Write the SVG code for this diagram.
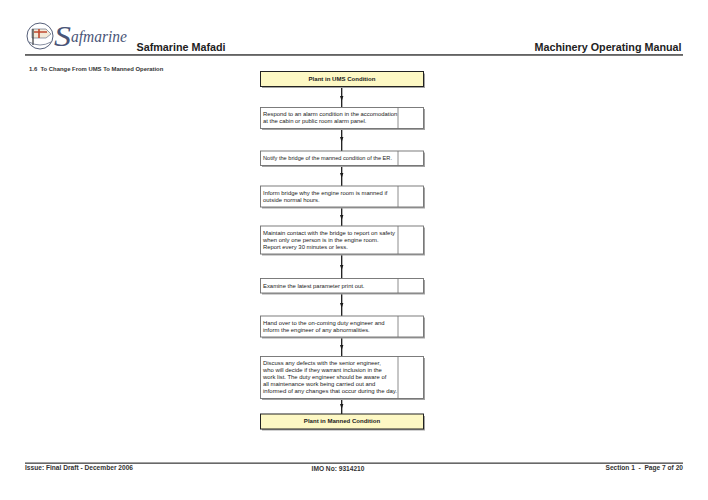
<svg xmlns="http://www.w3.org/2000/svg" width="708" height="500" viewBox="0 0 708 500">
<style>
text{font-family:"Liberation Sans",Arial,sans-serif;fill:#222;white-space:pre}
.b{font-size:5.9px}
.t{font-size:6.05px;font-weight:bold;text-anchor:middle}
.box{fill:#fff;stroke:#6f6f6f;stroke-width:.9}
.y{fill:#fdf8c4;stroke:#222;stroke-width:1}
.sh{fill:#a3a3a3}
.div{stroke:#6f6f6f;stroke-width:.8}
.c{stroke:#1a1a1a;stroke-width:1.3;fill:none}
.h{font-size:10.75px;font-weight:bold}
.f{font-size:6.62px;font-weight:bold;fill:#333}
.logo{font-family:"Liberation Serif",serif;font-style:italic;fill:#4a5578}
</style>
<rect width="708" height="500" fill="#fff"/>
<g id="header">
<circle cx="40" cy="36" r="13" fill="#fff" stroke="#56607a" stroke-width="1"/>
<path d="M32,29 L46,29 L51,34 L46,38 L32,38 Z" fill="#f3ead8" stroke="#56607a" stroke-width=".6"/>
<path d="M34,32 H47 M39,29 V38" stroke="#c0492f" stroke-width="1.6" fill="none"/>
<path d="M33,29 V45" stroke="#333" stroke-width="1.2"/>
<path d="M29,42 Q40,48 51,42" stroke="#56607a" stroke-width=".7" fill="none"/>
<text class="logo" x="54" y="46" style="font-size:29px" textLength="17" lengthAdjust="spacingAndGlyphs">S</text>
<text class="logo" x="71" y="42" style="font-size:16px" textLength="56" lengthAdjust="spacingAndGlyphs">afmarine</text>
<text class="h" x="136.500" y="50.500">Safmarine Mafadi</text>
<text class="h" x="681.500" y="50.500" text-anchor="end">Machinery Operating Manual</text>
<rect x="25" y="54.300" width="658" height="1.300" fill="#222"/>
<text x="29" y="71" style="font-size:5.9px;font-weight:bold;fill:#333">1.6  To Change From UMS To Manned Operation</text>
</g>
<g id="connectors">
<path class="c" d="M341.700 87V107"/>
<path class="c" d="M341.700 129V151"/>
<path class="c" d="M341.700 166V186"/>
<path class="c" d="M341.700 208V226"/>
<path class="c" d="M341.700 255V279"/>
<path class="c" d="M341.700 294V316"/>
<path class="c" d="M341.700 338V356"/>
<path class="c" d="M341.700 399V414"/>
<g fill="#1a1a1a">
<path d="M340 96h3.400l-1.700 5z"/><path d="M340 137h3.400l-1.700 5z"/><path d="M340 173h3.400l-1.700 5z"/><path d="M340 215h3.400l-1.700 5z"/><path d="M340 265h3.400l-1.700 5z"/><path d="M340 303h3.400l-1.700 5z"/><path d="M340 345h3.400l-1.700 5z"/><path d="M340 404h3.400l-1.700 5z"/>
</g>
</g>
<g id="n1"><rect class="sh" x="262" y="73.500" width="163" height="14.500"/><rect class="y" x="260.500" y="71.500" width="163" height="15"/><text class="t" x="342" y="80.500">Plant in UMS Condition</text></g>
<g id="n2"><rect class="sh" x="262" y="109" width="163" height="21"/><rect class="box" x="260.500" y="107.500" width="163" height="21"/><path class="div" d="M398 107.500V128.500"/><text class="b" x="263" y="115.800">Respond to an alarm condition in the accomodation</text><text class="b" x="263" y="122.800">at the cabin or public room alarm panel.</text></g>
<g id="n3"><rect class="sh" x="262" y="152.500" width="163" height="14.500"/><rect class="box" x="260.500" y="151" width="163" height="14.500"/><path class="div" d="M398 151V165.500"/><text class="b" x="263" y="159.800" textLength="129" lengthAdjust="spacingAndGlyphs">Notify the bridge of the manned condition of the ER.</text></g>
<g id="n4"><rect class="sh" x="262" y="187.500" width="163" height="21"/><rect class="box" x="260.500" y="186" width="163" height="21"/><path class="div" d="M398 186V207"/><text class="b" x="263" y="194.800">Inform bridge why the engine room is manned if</text><text class="b" x="263" y="201.800">outside normal hours.</text></g>
<g id="n5"><rect class="sh" x="262" y="227.500" width="163" height="28"/><rect class="box" x="260.500" y="226" width="163" height="28"/><path class="div" d="M398 226V254"/><text class="b" x="263" y="234.800">Maintain contact with the bridge to report on safety</text><text class="b" x="263" y="241.800">when only one person is in the engine room.</text><text class="b" x="263" y="248.800">Report every 30 minutes or less.</text></g>
<g id="n6"><rect class="sh" x="262" y="280" width="163" height="14.500"/><rect class="box" x="260.500" y="278.500" width="163" height="14.500"/><path class="div" d="M398 278.500V293"/><text class="b" x="263" y="288">Examine the latest parameter print out.</text></g>
<g id="n7"><rect class="sh" x="262" y="317.500" width="163" height="21"/><rect class="box" x="260.500" y="316" width="163" height="21"/><path class="div" d="M398 316V337"/><text class="b" x="263" y="324.800">Hand over to the on-coming duty engineer and</text><text class="b" x="263" y="331.800">inform the engineer of any abnormalities.</text></g>
<g id="n8"><rect class="sh" x="262" y="358" width="163" height="42"/><rect class="box" x="260.500" y="356.500" width="163" height="42"/><path class="div" d="M398 356.500V398.500"/><text class="b" x="263" y="365">Discuss any defects with the senior engineer,</text><text class="b" x="263" y="372">who will decide if they warrant inclusion in the</text><text class="b" x="263" y="379">work list. The duty engineer should be aware of</text><text class="b" x="263" y="386">all maintenance work being carried out and</text><text class="b" x="263" y="393" textLength="134" lengthAdjust="spacingAndGlyphs">informed of any changes that occur during the day.</text></g>
<g id="n9"><rect class="sh" x="262" y="416" width="163" height="14.500"/><rect class="y" x="260.500" y="414" width="163" height="15"/><text class="t" x="342" y="423">Plant in Manned Condition</text></g>
<g id="footer">
<rect x="25" y="462.500" width="658" height="1.300" fill="#444"/>
<text class="f" x="25" y="470">Issue: Final Draft - December 2006</text>
<text class="f" x="338" y="471" text-anchor="middle">IMO No: 9314210</text>
<text class="f" x="683" y="470" text-anchor="end">Section 1  -  Page 7 of 20</text>
</g>
</svg>
